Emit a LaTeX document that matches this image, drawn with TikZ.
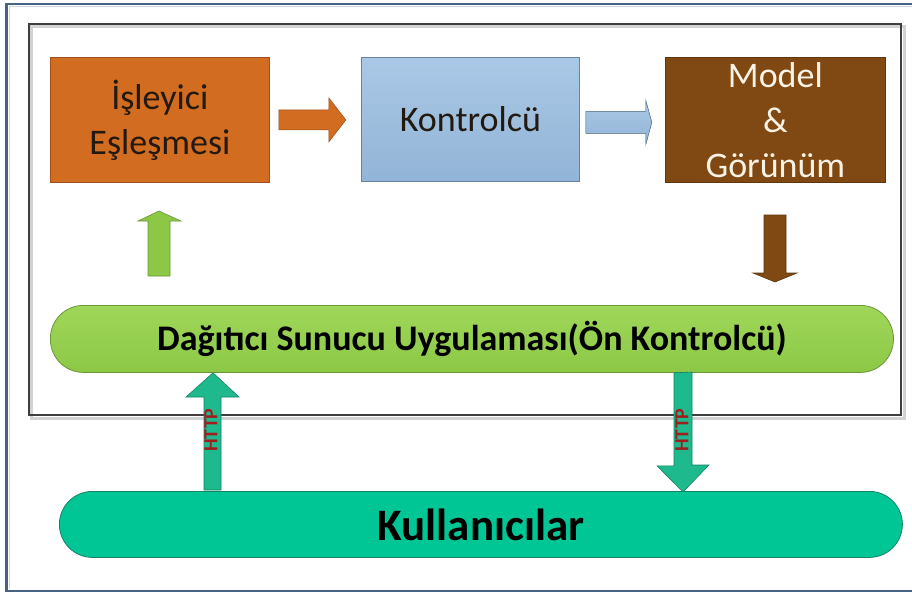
\documentclass[tikz,border=0pt]{standalone}
\usepackage{fontspec}
\setmainfont{Carlito}
\usetikzlibrary{calc}

\definecolor{framecol}{RGB}{72,98,130}
\definecolor{innercol}{RGB}{62,62,62}
\definecolor{orangefill}{RGB}{210,108,32}
\definecolor{orangeedge}{RGB}{160,80,30}
\definecolor{bluetop}{RGB}{170,200,230}
\definecolor{bluebot}{RGB}{146,180,214}
\definecolor{blueedge}{RGB}{105,130,160}
\definecolor{brownfill}{RGB}{128,72,18}
\definecolor{brownedge}{RGB}{95,55,15}
\definecolor{limetop}{RGB}{160,215,90}
\definecolor{limebot}{RGB}{140,200,70}
\definecolor{limeedge}{RGB}{105,150,55}
\definecolor{tealfill}{RGB}{0,198,150}
\definecolor{tealedge}{RGB}{20,130,100}
\definecolor{arrowteal}{RGB}{30,185,140}
\definecolor{httpred}{RGB}{160,30,30}
\definecolor{cream}{RGB}{250,242,228}
\definecolor{darktext}{RGB}{35,25,15}

\tikzset{
  stepbox/.style={draw, line width=0.8pt, minimum width=218pt, minimum height=124pt,
    anchor=north west, align=center, inner sep=0pt,
    font=\fontsize{36}{45}\selectfont},
  bar/.style={draw, line width=0.8pt, rounded corners=33pt, anchor=north west,
    inner sep=0pt, font=\bfseries\fontsize{36}{40}\selectfont},
  blockarrow/.style={line width=0.6pt, line join=miter},
  httplabel/.style={text=httpred, rotate=90, inner sep=0pt,
    font=\bfseries\fontsize{20}{22}\selectfont}
}

\begin{document}
\begin{tikzpicture}[x=1pt,y=-1pt]
\useasboundingbox (0,0) rectangle (912,594);
\fill[white] (0,0) rectangle (912,594);

% outer frame (runs past the right edge)
\draw[framecol, line width=2.6pt] (6.5,4) rectangle (930,591);
\draw[framecol!25, line width=1pt] (9,6.5) -- (930,6.5);
\draw[framecol!25, line width=1pt] (9,6.5) -- (9,588.5);

% inner frame with a soft shadow
\draw[gray!35, line width=3pt] (31,27) rectangle (904,418);
\draw[innercol, line width=2.8pt] (29,24) rectangle (901,415);

% three steps
\node[stepbox, fill=orangefill, draw=orangeedge, minimum width=219pt, minimum height=125pt,
  text=darktext] (handler) at (50,57) {İşleyici\\Eşleşmesi};
\node[stepbox, top color=bluetop, bottom color=bluebot, draw=blueedge,
  text=darktext] (controller) at (361,57) {Kontrolcü};
\node[stepbox, fill=brownfill, draw=brownedge, minimum width=220pt, minimum height=125pt,
  text=cream] (model) at (665,57) {Model\\\&\\Görünüm};

% front controller bar
\node[bar, top color=limetop, bottom color=limebot, draw=limeedge,
  minimum width=843pt, minimum height=67pt] (front) at (50,305)
  {Dağıtıcı Sunucu Uygulaması(Ön Kontrolcü)};

% users bar
\node[bar, fill=tealfill, draw=tealedge, minimum width=843pt, minimum height=66pt,
  font=\bfseries\fontsize{45}{48}\selectfont] (users) at (59,491) {Kullanıcılar};

% handler -> controller
\filldraw[blockarrow, fill=orangefill, draw=orangeedge]
  ($(handler.east)+(9,-10)$) -- ++(50,0) -- ++(0,-12) -- ++(17,22) -- ++(-17,22)
  -- ++(0,-12) -- ++(-50,0) -- cycle;

% controller -> model
\filldraw[blockarrow, top color=bluetop, bottom color=bluebot, draw=blueedge]
  ($(controller.east)+(6,-8)$) -- ++(60,0) -- ++(0,-11) -- ++(6,22) -- ++(-6,22)
  -- ++(0,-11) -- ++(-60,0) -- cycle;

% front -> handler (green, up)
\coordinate (gu) at (159,276);
\filldraw[blockarrow, fill=limebot, draw=limeedge]
  ($(gu)+(-11,0)$) -- ++(0,-55) -- ++(-10,0) -- ++(21,-10) -- ++(22,10)
  -- ++(-11,0) -- ++(0,55) -- cycle;

% model -> front (brown, down)
\coordinate (bd) at (775,215);
\filldraw[blockarrow, fill=brownfill, draw=brownedge]
  ($(bd)+(-11,0)$) -- ++(0,58) -- ++(-11,0) -- ++(22,9) -- ++(22,-9)
  -- ++(-11,0) -- ++(0,-58) -- cycle;

% users -> front (HTTP request)
\filldraw[blockarrow, fill=arrowteal, draw=tealedge]
  ($(users.north west)+(145,-1)$) -- ++(0,-93) -- ++(-18,0) -- ($(front.south west)+(163,0)$)
  -- ($(users.north west)+(180,-94)$) -- ++(-18,0) -- ++(0,93) -- cycle;
\node[httplabel] (httpup) at (211,430) {HTTP};

% front -> users (HTTP response)
\filldraw[blockarrow, fill=arrowteal, draw=tealedge]
  ($(front.south west)+(624,0)$) -- ++(0,93) -- ++(-17,0) -- ($(users.north west)+(624,1)$)
  -- ++(26,-27) -- ++(-17,0) -- ++(0,-93) -- cycle;
\node[httplabel] (httpdown) at (682,430) {HTTP};
\end{tikzpicture}
\end{document}
